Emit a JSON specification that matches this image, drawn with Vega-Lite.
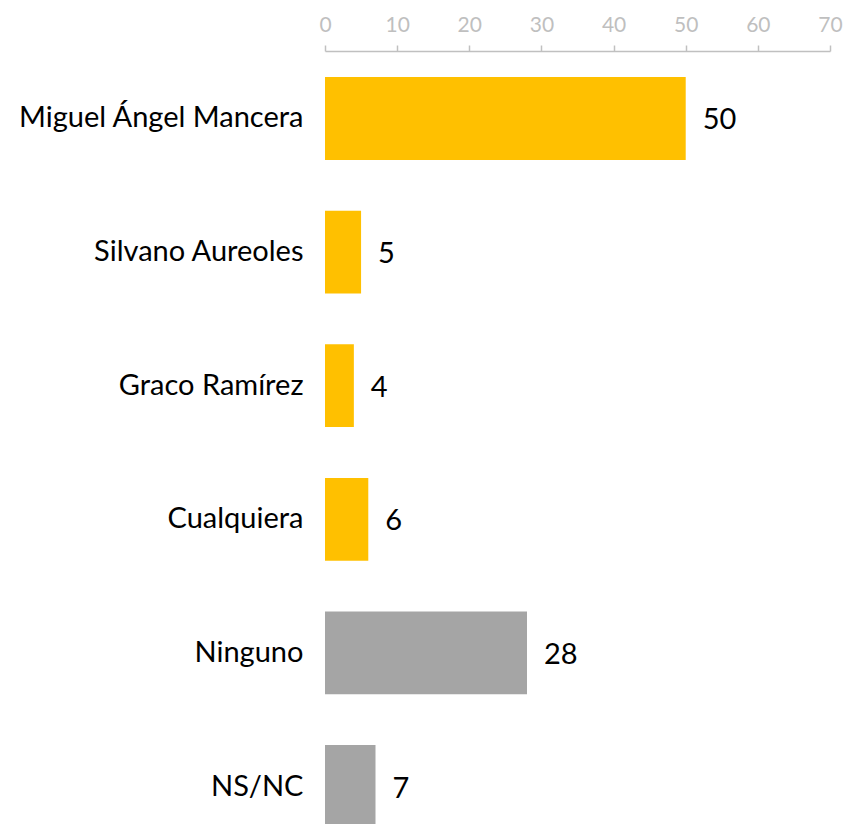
{
  "$schema": "https://vega.github.io/schema/vega-lite/v6.json",
  "width": 505,
  "height": 803,
  "autosize": {"type": "none"},
  "padding": {"left": 325, "top": 51, "right": 14, "bottom": 0},
  "background": "white",
  "config": {"view": {"stroke": null}, "font": "Lato"},
  "data": {
    "values": [
      {"nombre": "Miguel Ángel Mancera", "valor": 50, "grupo": "c"},
      {"nombre": "Silvano Aureoles", "valor": 5, "grupo": "c"},
      {"nombre": "Graco Ramírez\u2007", "valor": 4, "grupo": "c"},
      {"nombre": "Cualquiera", "valor": 6, "grupo": "c"},
      {"nombre": "Ninguno", "valor": 28, "grupo": "n"},
      {"nombre": "NS/NC", "valor": 7, "grupo": "n"}
    ]
  },
  "encoding": {
    "y": {
      "field": "nombre",
      "type": "nominal",
      "sort": null,
      "scale": {"paddingInner": 0.38, "paddingOuter": 0.195},
      "axis": {
        "title": null,
        "domain": false,
        "ticks": false,
        "labelFontSize": 29,
        "labelColor": "#000000",
        "labelPadding": 22,
        "labelLimit": 0,
        "labelFont": "Lato"
      }
    },
    "x": {
      "field": "valor",
      "type": "quantitative",
      "scale": {"domain": [0, 70], "nice": false},
      "axis": {
        "orient": "top",
        "title": null,
        "values": [0, 10, 20, 30, 40, 50, 60, 70],
        "grid": false,
        "domainColor": "#c0c0c0",
        "domainWidth": 1.5,
        "tickColor": "#c0c0c0",
        "tickWidth": 1.5,
        "tickSize": 6,
        "labelColor": "#bfbfbf",
        "labelFontSize": 21,
        "labelPadding": 10,
        "labelFont": "Lato",
        "labelFlush": false
      }
    }
  },
  "layer": [
    {
      "mark": {"type": "bar"},
      "encoding": {
        "color": {
          "field": "grupo",
          "type": "nominal",
          "scale": {"domain": ["c", "n"], "range": ["#FFC000", "#A5A5A5"]},
          "legend": null
        }
      }
    },
    {
      "mark": {"type": "text", "align": "left", "baseline": "middle", "dx": 17, "dy": 2, "fontSize": 29, "font": "Lato", "color": "#000000"},
      "encoding": {"text": {"field": "valor", "type": "quantitative"}}
    }
  ]
}
